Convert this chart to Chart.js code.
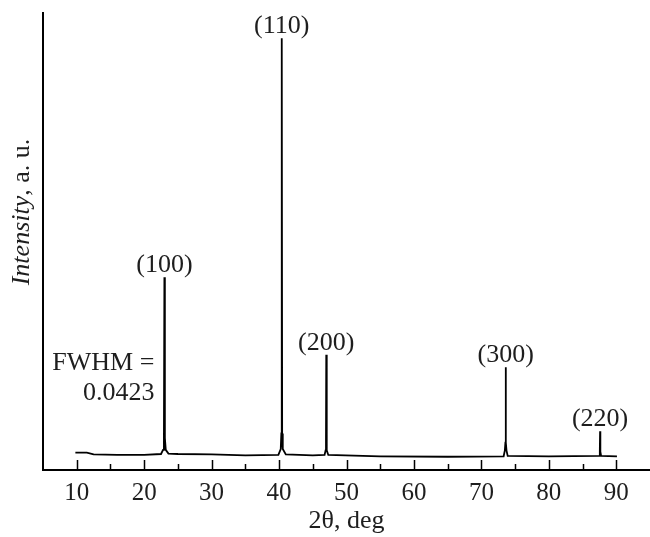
<!DOCTYPE html>
<html>
<head>
<meta charset="utf-8">
<script src="https://cdn.jsdelivr.net/npm/chart.js@4"></script>
<style>
  html, body { margin: 0; padding: 0; background: #fff; }
  canvas { display: block; }
</style>
</head>
<body>
<canvas id="c" width="650" height="537"></canvas>
<script>
// ---- data ----
const twoTheta = [9.8, 11.5, 12.5, 16, 20, 22.5, 22.8, 22.93, 23.0, 23.07, 23.2, 23.6, 25, 30, 35, 39.9, 40.25, 40.34, 40.4, 40.46, 40.55, 41.0, 45, 46.75, 46.9, 46.96, 47.0, 47.04, 47.1, 47.3, 55, 65, 73.3, 73.48, 73.56, 73.6, 73.64, 73.72, 73.9, 80, 87.45, 87.56, 87.6, 87.64, 87.75, 90.1];
const intensity = [3.8, 3.8, 3.4, 3.3, 3.3, 3.5, 4.4, 7, 42.2, 7, 4.4, 3.6, 3.5, 3.4, 3.2, 3.3, 4.6, 8, 94.5, 8, 4.6, 3.4, 3.2, 3.3, 4.3, 6, 25.2, 6, 4.3, 3.3, 3.0, 2.9, 3.0, 4.3, 6, 22.5, 6, 4.3, 3.1, 3.0, 3.1, 4, 8.5, 4, 3.1, 3.0];
const peakLabels = ["(100)", "(110)", "(200)", "(300)", "(220)"];
const peakX = [23.0, 40.4, 47.0, 73.6, 87.6];
const peakY = [42.2, 94.5, 25.2, 22.5, 8.5];
const majorTicks = [10, 20, 30, 40, 50, 60, 70, 80, 90];
const minorTicks = [15, 25, 35, 45, 55, 65, 75, 85];
const fwhmLines = ["FWHM =", "0.0423"];
const xTitle = "2\u03b8, deg";
const yTitleItalic = "Intensity";
const yTitleRest = ", a. u.";

const SERIF = '"Liberation Serif", "Times New Roman", serif';
const TXT = '#1e1e1e';

const points = twoTheta.map((x, i) => ({ x: x, y: intensity[i] }));

const decor = {
  id: 'decor',
  beforeDraw(chart) {
    const ctx = chart.ctx;
    ctx.save();
    ctx.fillStyle = '#fff';
    ctx.fillRect(0, 0, chart.width, chart.height);
    ctx.restore();
  },
  afterDraw(chart) {
    const ctx = chart.ctx;
    const xs = chart.scales.x, ys = chart.scales.y;
    const base = chart.chartArea.bottom;
    ctx.save();
    // inward tick marks
    ctx.strokeStyle = '#000';
    ctx.lineWidth = 1.5;
    ctx.beginPath();
    majorTicks.forEach(v => {
      const px = Math.round(xs.getPixelForValue(v)) + 0.5;
      ctx.moveTo(px, base); ctx.lineTo(px, base - 10);
    });
    minorTicks.forEach(v => {
      const px = Math.round(xs.getPixelForValue(v)) + 0.5;
      ctx.moveTo(px, base); ctx.lineTo(px, base - 6);
    });
    ctx.stroke();

    // peak labels
    ctx.fillStyle = TXT;
    ctx.font = '26px ' + SERIF;
    ctx.textAlign = 'center';
    ctx.textBaseline = 'alphabetic';
    peakLabels.forEach((t, i) => {
      const px = xs.getPixelForValue(peakX[i]);
      const py = ys.getPixelForValue(peakY[i]);
      ctx.fillText(t, px, py - 5);
    });

    // FWHM annotation next to the (100) peak
    const p0x = xs.getPixelForValue(peakX[0]);
    const p0y = ys.getPixelForValue(peakY[0]);
    ctx.textAlign = 'right';
    ctx.fillText(fwhmLines[0], p0x - 10, p0y + 93);
    ctx.fillText(fwhmLines[1], p0x - 10, p0y + 123);

    // y-axis title (rotated), "Intensity" italic
    ctx.translate(29, 212);
    ctx.rotate(-Math.PI / 2);
    ctx.textAlign = 'left';
    ctx.font = 'italic 26px ' + SERIF;
    const w1 = ctx.measureText(yTitleItalic).width;
    ctx.font = '26px ' + SERIF;
    const w2 = ctx.measureText(yTitleRest).width;
    const start = -(w1 + w2) / 2;
    ctx.font = 'italic 26px ' + SERIF;
    ctx.fillText(yTitleItalic, start, 0);
    ctx.font = '26px ' + SERIF;
    ctx.fillText(yTitleRest, start + w1, 0);
    ctx.restore();
  }
};

new Chart(document.getElementById('c'), {
  type: 'line',
  data: {
    datasets: [{
      data: points,
      borderColor: '#000',
      borderWidth: 1.8,
      pointRadius: 0,
      tension: 0,
      fill: false
    }]
  },
  options: {
    responsive: false,
    animation: false,
    devicePixelRatio: 1,
    layout: { padding: { top: 13, left: 0, right: 0, bottom: 0 } },
    plugins: { legend: { display: false }, tooltip: { enabled: false } },
    scales: {
      x: {
        type: 'linear',
        min: 5,
        max: 95,
        afterBuildTicks(scale) { scale.ticks = majorTicks.map(v => ({ value: v })); },
        afterFit(scale) { scale.height = 67; },
        grid: { drawOnChartArea: false, drawTicks: false },
        border: { display: true, color: '#000', width: 2 },
        ticks: {
          padding: 8,
          color: TXT,
          font: { family: SERIF, size: 25 },
          maxRotation: 0,
          autoSkip: false
        },
        title: {
          display: true,
          text: xTitle,
          color: TXT,
          font: { family: SERIF, size: 26 },
          padding: { top: 0, bottom: 0 }
        }
      },
      y: {
        type: 'linear',
        min: 0,
        max: 100,
        afterFit(scale) { scale.width = 43; },
        grid: { drawOnChartArea: false, drawTicks: false },
        border: { display: true, color: '#000', width: 2 },
        ticks: { display: false }
      }
    }
  },
  plugins: [decor]
});
</script>
</body>
</html>
